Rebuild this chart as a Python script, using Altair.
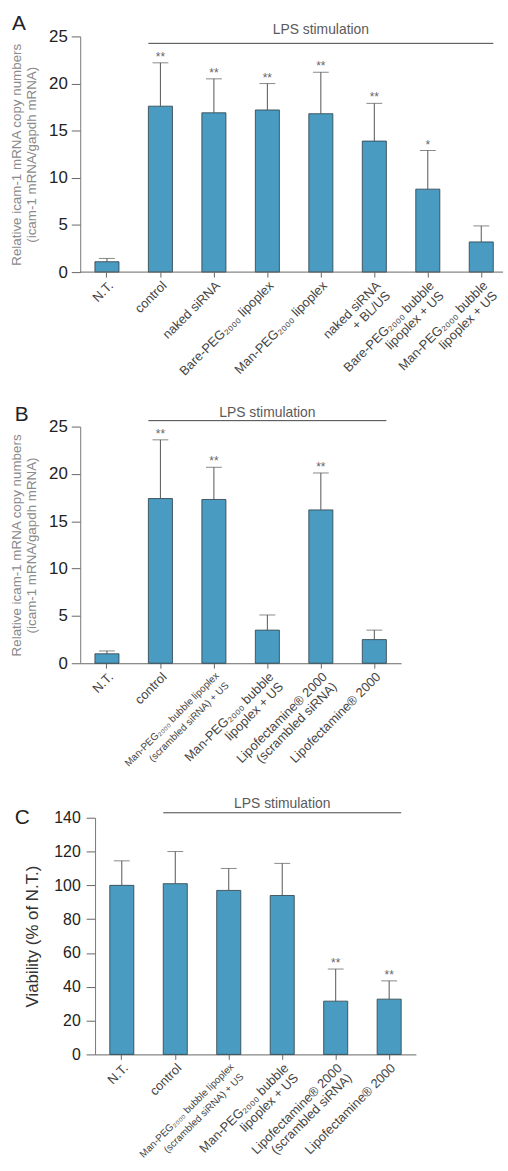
import altair as alt
import pandas as pd

FONT = "Liberation Sans"
BAR_FILL = "#4a9bc1"
BAR_EDGE = "#2b3b45"
INK = "#555555"

# ---------------- data ----------------
a_groups = [
    "N.T.",
    "control",
    "naked siRNA",
    "Bare-PEG₂₀₀₀ lipoplex",
    "Man-PEG₂₀₀₀ lipoplex",
    "naked siRNA\n+ BL/US",
    "Bare-PEG₂₀₀₀ bubble\nlipoplex + US",
    "Man-PEG₂₀₀₀ bubble\nlipoplex + US",
]
a_mean = [1.1, 17.6, 16.9, 17.2, 16.8, 13.9, 8.8, 3.2]
a_upper = [1.45, 22.2, 20.5, 20.0, 21.2, 17.9, 12.9, 4.9]
a_stars = ["", "**", "**", "**", "**", "**", "*", ""]

bc_groups = [
    "N.T.",
    "control",
    "Man-PEG₂₀₀₀ bubble lipoplex\n(scrambled siRNA) + US",
    "Man-PEG₂₀₀₀ bubble\nlipoplex + US",
    "Lipofectamine® 2000\n(scrambled siRNA)",
    "Lipofectamine® 2000",
]
b_mean = [1.0, 17.4, 17.3, 3.5, 16.2, 2.5]
b_upper = [1.3, 23.6, 20.7, 5.1, 20.1, 3.5]
b_stars = ["", "**", "**", "", "**", ""]

c_mean = [100, 101, 97, 94, 31.5, 32.7]
c_upper = [114.5, 120, 110, 113, 50.5, 43.5]
c_stars = ["", "", "", "", "**", "**"]

ICAM_TITLE = ["Relative icam-1 mRNA copy numbers", "(icam-1 mRNA/gapdh mRNA)"]
VIAB_TITLE = "Viability (% of N.T.)"
LPS = "LPS stimulation"

STEP = 54


def panel(letter, groups, mean, upper, stars, ymax, ystep, ytitle,
          height, view_width, shift, draw_domain,
          lps_line_y, lps_text_y, letter_x, letter_y,
          tick_font, title_font, title_color, title_pad, label_pad):
    n = len(groups)
    df = pd.DataFrame({"group": groups, "mean": mean, "upper": upper, "stars": stars})

    xscale = alt.Scale(domain=groups, paddingInner=0.55, paddingOuter=0.275,
                       range=[shift, shift + STEP * n])
    xaxis = alt.Axis(
        title=None,
        labelAngle=-45,
        labelAlign="right",
        labelBaseline="top",
        labelFontSize={"condition": {"test": "indexof(datum.value, ') + US') >= 0",
                                     "value": 10},
                       "value": 13},
        labelColor="#444444",
        labelLineHeight=14,
        labelPadding=2,
        labelExpr="split(datum.label, '\\n')",
        labelOverlap=False,
        tickSize=5,
        tickColor="#666666",
        domain=draw_domain,
        domainColor="#666666",
    )
    yvalues = list(range(0, ymax + 1, ystep))
    yscale = alt.Scale(domain=[0, ymax], nice=False)
    yaxis = alt.Axis(
        title=ytitle,
        values=yvalues,
        tickCount=len(yvalues),
        grid=False,
        offset=-shift,
        tickSize=9,
        tickColor="#666666",
        domainColor="#777777",
        labelFontSize=tick_font,
        labelColor="#222222",
        labelPadding=label_pad,
        labelOverlap=False,
        titleFontSize=title_font,
        titleFontWeight="normal",
        titleColor=title_color,
        titlePadding=title_pad,
        titleLineHeight=15,
    )

    base = alt.Chart(df)
    bars = base.mark_bar(fill=BAR_FILL, stroke=BAR_EDGE, strokeWidth=0.8).encode(
        x=alt.X("group:N", scale=xscale, axis=xaxis, sort=groups),
        y=alt.Y("mean:Q", scale=yscale, axis=yaxis),
    )
    stems = base.mark_rule(color=INK, strokeWidth=1).encode(
        x=alt.X("group:N", sort=groups), y="mean:Q", y2="upper:Q"
    )
    caps = base.mark_tick(color=INK, size=16, thickness=1).encode(
        x=alt.X("group:N", sort=groups), y="upper:Q"
    )
    marks = base.mark_text(font=FONT, fontSize=12, color="#666666",
                           baseline="alphabetic", dy=-2).encode(
        x=alt.X("group:N", sort=groups), y="upper:Q", text="stars:N"
    )

    lps_df = pd.DataFrame({
        "start": [groups[1]],
        "end": [groups[-1]],
        "mid": [groups[(1 + n - 1) // 2]],
        "label": [LPS],
    })
    lps_base = alt.Chart(lps_df)
    lps_rule = lps_base.mark_rule(color="#444444", strokeWidth=1).encode(
        x=alt.X("start:N", sort=groups, bandPosition=0),
        x2=alt.X2("end:N", bandPosition=1),
        y=alt.value(lps_line_y),
    )
    lps_text = lps_base.mark_text(font=FONT, fontSize=14, color="#5a5a5a",
                                  baseline="alphabetic").encode(
        x=alt.X("mid:N", sort=groups),
        y=alt.value(lps_text_y),
        text="label:N",
    )

    tag = alt.Chart(pd.DataFrame({"t": [letter]})).mark_text(
        font=FONT, fontSize=21, color="#222222", align="left", baseline="alphabetic"
    ).encode(x=alt.value(letter_x), y=alt.value(letter_y), text="t:N")

    layers = [bars, stems, caps, marks, lps_rule, lps_text, tag]
    if not draw_domain:
        # baseline drawn as a rule across the full view width
        baseline = alt.Chart(pd.DataFrame({"y0": [0]})).mark_rule(
            color="#666666", strokeWidth=1
        ).encode(x=alt.value(0), x2=alt.value(view_width), y="y0:Q")
        layers.append(baseline)

    return alt.layer(*layers).properties(width=view_width, height=height)


def gap(h):
    # empty block that separates two panels vertically
    return alt.Chart(pd.DataFrame({"v": [0]})).mark_point(opacity=0).encode(
        x=alt.value(0), y=alt.value(0)
    ).properties(width=1, height=h)


panel_a = panel("A", a_groups, a_mean, a_upper, a_stars, 25, 5, ICAM_TITLE,
                238, 427, 0, False, 7, -2, -69, -6, 17, 13.5, "#8a8a8a", 10, 4)
panel_b = panel("B", bc_groups, b_mean, b_upper, b_stars, 25, 5, ICAM_TITLE,
                239, 324, 0, True, -6, -10, -66, -6, 17, 13.5, "#8a8a8a", 10, 4)
panel_c = panel("C", bc_groups, c_mean, c_upper, c_stars, 140, 20, VIAB_TITLE,
                239, 339, 15, True, -5, -10, -66, 6, 16, 17, "#333333", 12, 6)

chart = alt.vconcat(panel_a, gap(156), panel_b, gap(156), panel_c, spacing=0).properties(
    bounds="flush",
    padding={"left": 10, "top": 8, "right": 0, "bottom": 0},
).configure(font=FONT).configure_view(stroke=None)

chart.save("out.html", embed_options={"renderer": "svg", "actions": False})
